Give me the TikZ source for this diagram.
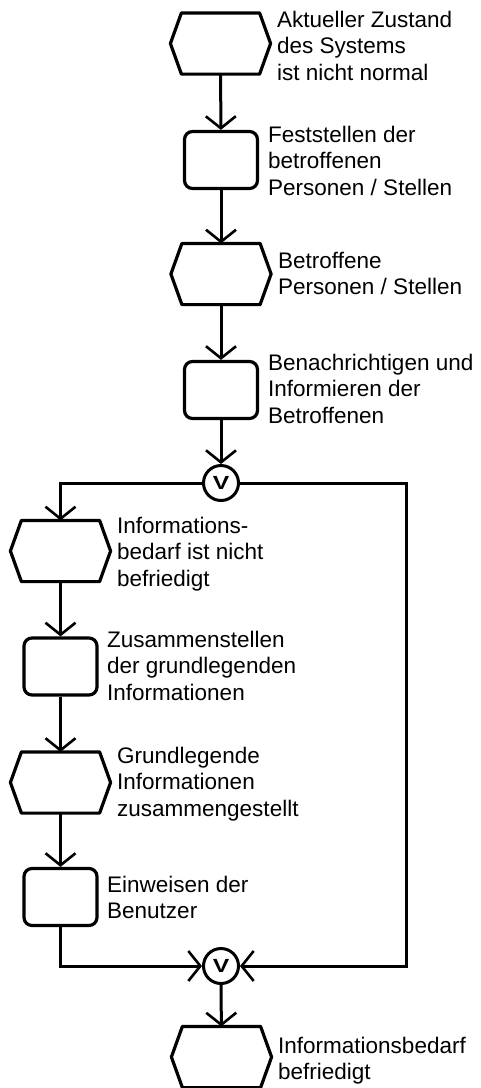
\documentclass[tikz,border=0pt]{standalone}
\usepackage{fontspec}
\setmainfont{Liberation Sans}
\usetikzlibrary{arrows.meta}
\newcommand\firststrut{\rule{0pt}{17pt}}
\newcommand\orsym{\scalebox{1.3}[1]{V}}
\begin{document}
\begin{tikzpicture}[x=1pt,y=-1pt,
  shapeline/.style={line width=3.2pt,line join=round},
  event/.style={minimum width=97pt,minimum height=58pt,inner sep=0pt,outer sep=1.6pt},
  func/.style={draw,line width=3.2pt,rounded corners=8pt,minimum width=73pt,minimum height=57pt,inner sep=0pt},
  orgate/.style={draw,circle,line width=3pt,minimum size=35pt,inner sep=0pt,
    font=\fontsize{19}{19}\selectfont\bfseries},
  conn/.style={line width=3pt,-{Straight Barb[length=12pt,width=30pt,line width=2.6pt]}},
  lbl/.style={anchor=north west,inner sep=0pt,align=left,
    font=\fontsize{22.5}{26.5}\selectfont}
]
\useasboundingbox (0,0) rectangle (480,1088);

% events (hexagons) and functions (rounded boxes)
\node[event] (h1) at (220.5,43.5) {};
\node[func]  (b2) at (221,160) {};
\node[event] (h3) at (221,274) {};
\node[func]  (b4) at (221,390) {};
\node[orgate] (or1) at (221,483) {\orsym};
\node[event] (h5) at (60.5,551) {};
\node[func]  (b6) at (60.5,666.5) {};
\node[event] (h7) at (60.5,782.5) {};
\node[func]  (b8) at (60.5,897) {};
\node[orgate] (or2) at (221,966) {\orsym};
\node[event] (h9) at (221.5,1057) {};
\coordinate (rc) at (406,966);

\foreach \n in {h1,h3,h5,h7,h9}
  \draw[shapeline] ([xshift=11pt]\n.north west) -- ([xshift=-11pt]\n.north east)
    -- (\n.east) -- ([xshift=-11pt]\n.south east) -- ([xshift=11pt]\n.south west)
    -- (\n.west) -- cycle;

% labels
\node[lbl] (t1) at (277,10) {\firststrut Aktueller Zustand\\des Systems\\ist nicht normal};
\node[lbl] (t2) at (268,125) {\firststrut Feststellen der\\betroffenen\\Personen / Stellen};
\node[lbl] (t3) at (278,251) {\firststrut Betroffene\\Personen / Stellen};
\node[lbl] (t4) at (268,353) {\firststrut Benachrichtigen und\\Informieren der\\Betroffenen};
\node[lbl] (t5) at (117,516) {\firststrut Informations-\\bedarf ist nicht\\befriedigt};
\node[lbl] (t6) at (107,630) {\firststrut Zusammenstellen\\der grundlegenden\\Informationen};
\node[lbl] (t7) at (117,746) {\firststrut Grundlegende\\Informationen\\zusammengestellt};
\node[lbl] (t8) at (107,875) {\firststrut Einweisen der\\Benutzer};
\node[lbl] (t9) at (278,1036) {\firststrut Informationsbedarf\\befriedigt};

% control flow
\draw[conn] (h1) -- (b2);
\draw[conn] (b2) -- (h3);
\draw[conn] (h3) -- (b4);
\draw[conn] (b4) -- (or1);
\draw[conn] (or1.west) -| (h5.north);
\draw[conn] (or1.east) -| (rc) -- (or2.east);
\draw[conn] (h5) -- (b6);
\draw[conn] (b6) -- (h7);
\draw[conn] (h7) -- (b8);
\draw[conn] (b8.south) |- (or2.west);
\draw[conn] (or2) -- (h9);
\end{tikzpicture}
\end{document}
